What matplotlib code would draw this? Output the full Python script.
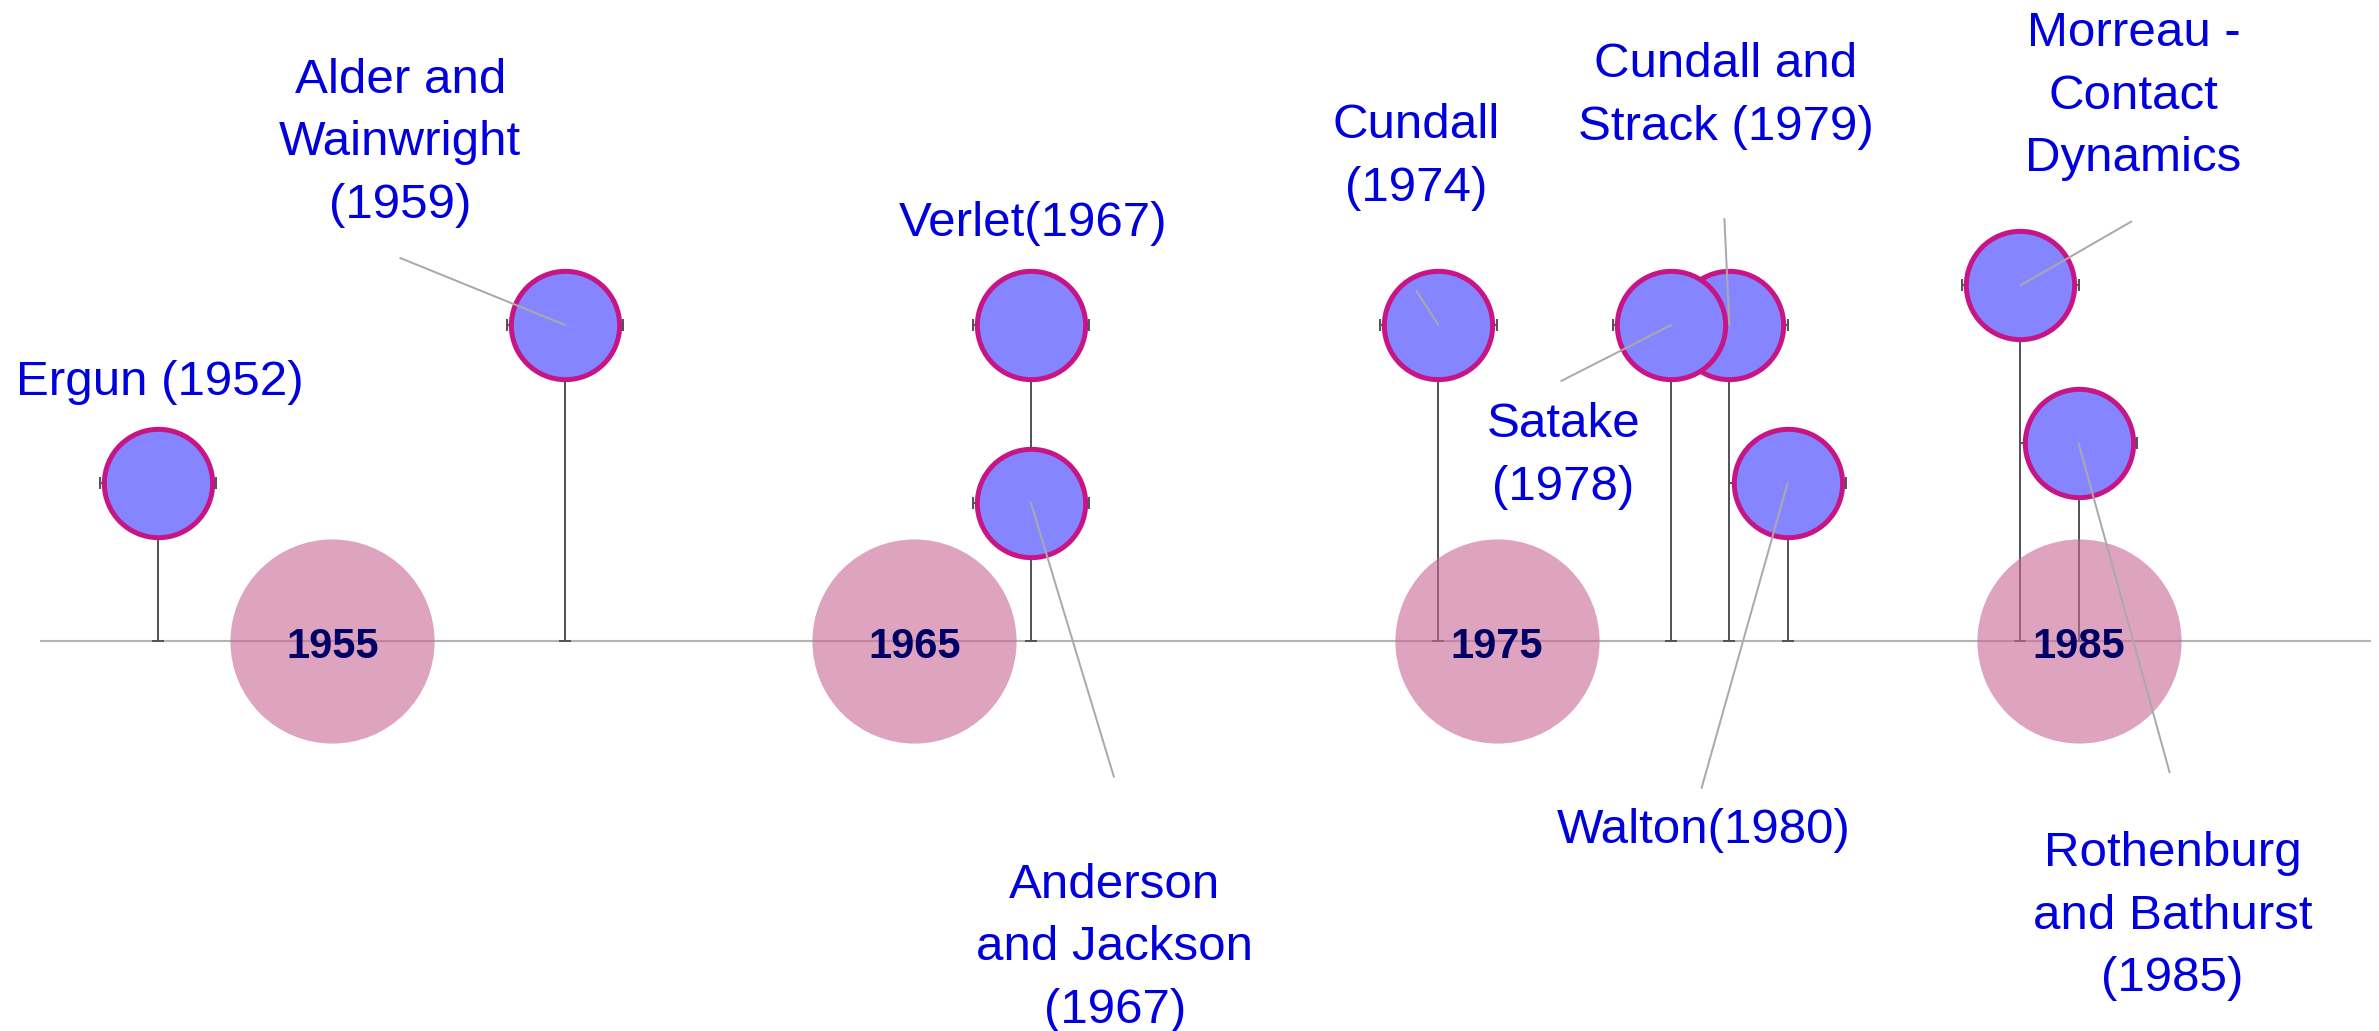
# timeline of DEM milestones: stems with bubbles, decade markers on the axis
import matplotlib.pyplot as plt

plt.rcParams['font.family'] = ['Liberation Sans', 'DejaVu Sans']

# events
names = ["Ergun (1952)", "Alder and\nWainwright\n(1959)", "Verlet(1967)",
         "Anderson\nand Jackson\n(1967)", "Cundall\n(1974)",
         "Cundall and\nStrack (1979)", "Satake\n(1978)", "Walton(1980)",
         "Morreau -\nContact\nDynamics", "Rothenburg\nand Bathurst\n(1985)"]
years = [1952, 1959, 1967, 1967, 1974, 1979, 1978, 1980, 1984, 1985]
levels = [2, 4, 4, 1.75, 4, 4, 4, 2, 4.5, 2.5]

# decade markers
decades = [1955, 1965, 1975, 1985]
decade_labels = ["1955", "1965", "1975", "1985"]

# label layout, pixels from the bubble: baseline of the last text line,
# and where the leader line starts
text_off = [(2, 88), (-165, 107), (2, 89), (84, -520), (-22, 124),
            (-4, 185), (-108, -175), (-84, -360), (113, 114), (94, -548)]
line_off = [None, (-165, 67), None, (83, -274), (-22, 34),
            (-5, 106), (-110, -56), (-86, -305), (111, 64), (91, -329)]

fig = plt.figure(figsize=(23.79, 10.31), dpi=100)
ax = fig.add_axes([0, 0, 1, 1])
ax.set_xlim(1949.29, 1990.16)
ax.set_ylim(-4.937, 8.114)
ax.axis("off")

# time axis
ax.plot([1950, 1990], [0, 0], color="#b4b4b4", lw=1.5, zorder=1)

# stems (down to the axis) and +-1 year whiskers
ax.errorbar(years, levels, xerr=1, yerr=[levels, [0] * len(levels)],
            fmt="none", ecolor="#555555", elinewidth=1.44,
            capsize=4.3, capthick=1.44, zorder=2)

# decade bubbles
ax.plot(decades, [0] * len(decades), "o", ms=147, color="#c96694",
        alpha=0.6, mec="none", zorder=3)
for d, lab in zip(decades, decade_labels):
    ax.annotate(lab, (d, 0), xytext=(0, -17), textcoords="offset pixels",
                ha="center", va="baseline", fontsize=30, fontweight="bold",
                color="#000066", zorder=7)

# event bubbles, one by one so later ones sit on top
for yr, lv in zip(years, levels):
    ax.plot(yr, lv, "o", ms=78, mfc="#8585ff", mec="mediumvioletred",
            mew=3.6, zorder=4)

# leader lines and labels
for name, yr, lv, toff, loff in zip(names, years, levels, text_off, line_off):
    if loff is not None:
        ax.annotate("", (yr, lv), xytext=loff, textcoords="offset pixels",
                    arrowprops=dict(arrowstyle="-", color="#aaaaaa", lw=1.44,
                                    shrinkA=0, shrinkB=0), zorder=5)
    ax.annotate(name, (yr, lv), xytext=toff, textcoords="offset pixels",
                ha="center", va="baseline", fontsize=35.5, color="#0000dd",
                linespacing=1.5, multialignment="center", zorder=6)

fig.savefig("out.png", dpi=100)
